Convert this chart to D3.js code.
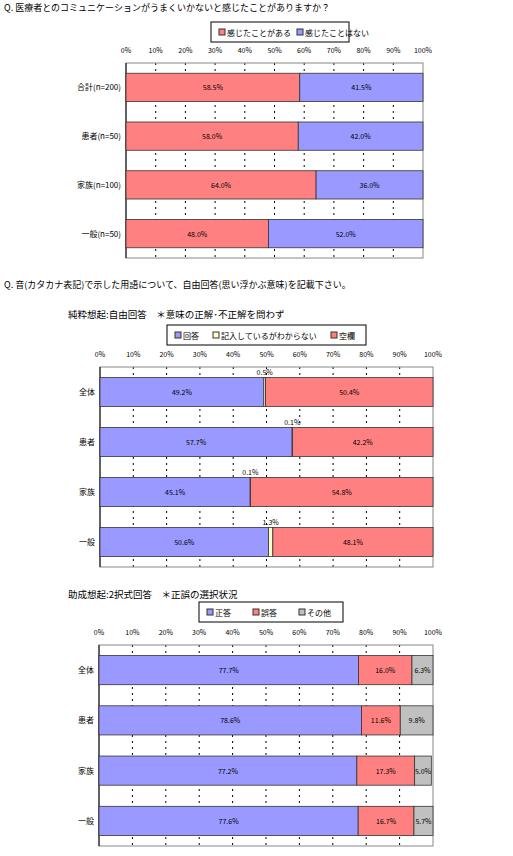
<!DOCTYPE html>
<html><head><meta charset="utf-8">
<script src="https://cdn.jsdelivr.net/npm/d3@7"></script>
<style>body{margin:0;background:#fff;font-family:"Noto Sans CJK JP",sans-serif;}</style>
</head><body><div id="c"></div>
<script>
// chart 1
var cats1 = ["合計(n=200)","患者(n=50)","家族(n=100)","一般(n=50)"];
var names1 = ["感じたことがある","感じたことはない"];
var vals1 = [[58.5,41.5],[58.0,42.0],[64.0,36.0],[48.0,52.0]];
// chart 2
var cats2 = ["全体","患者","家族","一般"];
var names2 = ["回答","記入しているがわからない","空欄"];
var vals2 = [[49.2,0.5,50.4],[57.7,0.1,42.2],[45.1,0.1,54.8],[50.6,1.3,48.1]];
// chart 3
var cats3 = ["全体","患者","家族","一般"];
var names3 = ["正答","誤答","その他"];
var vals3 = [[77.7,16.0,6.3],[78.6,11.6,9.8],[77.2,17.3,5.0],[77.6,16.7,5.7]];
var ticks = d3.range(0,101,10);

var svg = d3.select("#c").append("svg").attr("width",513).attr("height",856);

function txt(x,y,s,size,anchor){
  return svg.append("text").attr("x",x).attr("y",y).attr("font-size",size||9)
    .attr("text-anchor",anchor||"start").attr("fill","#000").text(s);
}

txt(4,11,"Q. 医療者とのコミュニケーションがうまくいかないと感じたことがありますか？",9);
txt(4,288,"Q. 音(カタカナ表記)で示した用語について、自由回答(思い浮かぶ意味)を記載下さい。",9);
txt(68,318,"純粋想起:自由回答　＊意味の正解･不正解を問わず",9.5);
txt(68,598,"助成想起:2択式回答　＊正誤の選択状況",9.5);

function chart(o){
  var x = d3.scaleLinear().domain([0,100]).range([o.x0,o.x1]);
  var y = d3.scaleBand().domain(o.cats).range([o.y0,o.y1]).paddingInner(0.42).paddingOuter(0.21);
  var g = svg.append("g");
  // legend
  var lg = g.append("g");
  lg.append("rect").attr("x",o.lx).attr("y",o.ly).attr("width",o.lw).attr("height",20)
    .attr("fill","#fff").attr("stroke","#000");
  var lx = o.lx+8;
  o.names.forEach(function(n,i){
    lg.append("rect").attr("x",lx).attr("y",o.ly+7).attr("width",6).attr("height",6)
      .attr("fill",o.colors[i]).attr("stroke","#333");
    lg.append("text").attr("x",lx+8).attr("y",o.ly+14).attr("font-size",8).text(n);
    lx += 8 + n.length*8 + o.lgap;
  });
  // ticks
  ticks.forEach(function(t){
    g.append("text").attr("x",x(t)).attr("y",o.y0-10).attr("font-size",7)
      .attr("text-anchor","middle").text(t+"%");
  });
  // grid
  g.selectAll(".gl").data(ticks.slice(1,10)).enter().append("line")
    .attr("x1",d=>x(d)).attr("x2",d=>x(d)).attr("y1",o.y0).attr("y2",o.y1)
    .attr("stroke","#000").attr("stroke-dasharray","2,4");
  g.append("rect").attr("x",o.x0).attr("y",o.y0).attr("width",o.x1-o.x0).attr("height",o.y1-o.y0)
    .attr("fill","none").attr("stroke","#888");
  g.append("line").attr("x1",o.x0).attr("x2",o.x0).attr("y1",o.y0).attr("y2",o.y1).attr("stroke","#000");
  // bars
  o.cats.forEach(function(c,i){
    var acc = 0;
    g.append("text").attr("x",o.x0-5).attr("y",y(c)+y.bandwidth()/2+3).attr("font-size",8)
      .attr("text-anchor","end").text(c);
    o.vals[i].forEach(function(v,j){
      var xs = x(acc), xe = x(Math.min(acc+v,100));
      g.append("rect").attr("x",xs).attr("y",y(c)).attr("width",xe-xs).attr("height",y.bandwidth())
        .attr("fill",o.colors[j]).attr("stroke","#333").attr("stroke-width",0.8);
      var lab = v.toFixed(1)+"%";
      if (v < 2) {
        g.append("text").attr("x",(xs+xe)/2).attr("y",y(c)-3).attr("font-size",7)
          .attr("text-anchor","middle").text(lab);
      } else {
        g.append("text").attr("x",(xs+xe)/2).attr("y",y(c)+y.bandwidth()/2+3).attr("font-size",7)
          .attr("text-anchor","middle").text(lab);
      }
      acc += v;
    });
  });
}

chart({cats:cats1,names:names1,vals:vals1,colors:["#FF8080","#9999FF"],
  x0:126,x1:423,y0:63,y1:258,lx:211,ly:22,lw:138,lgap:6});
chart({cats:cats2,names:names2,vals:vals2,colors:["#9999FF","#FFFFCC","#FF8080"],
  x0:100,x1:433,y0:367,y1:567,lx:167,ly:325,lw:199,lgap:14});
chart({cats:cats3,names:names3,vals:vals3,colors:["#9999FF","#FF8080","#C0C0C0"],
  x0:99,x1:433,y0:645,y1:846,lx:199,ly:602,lw:144,lgap:22});
</script></body></html>
